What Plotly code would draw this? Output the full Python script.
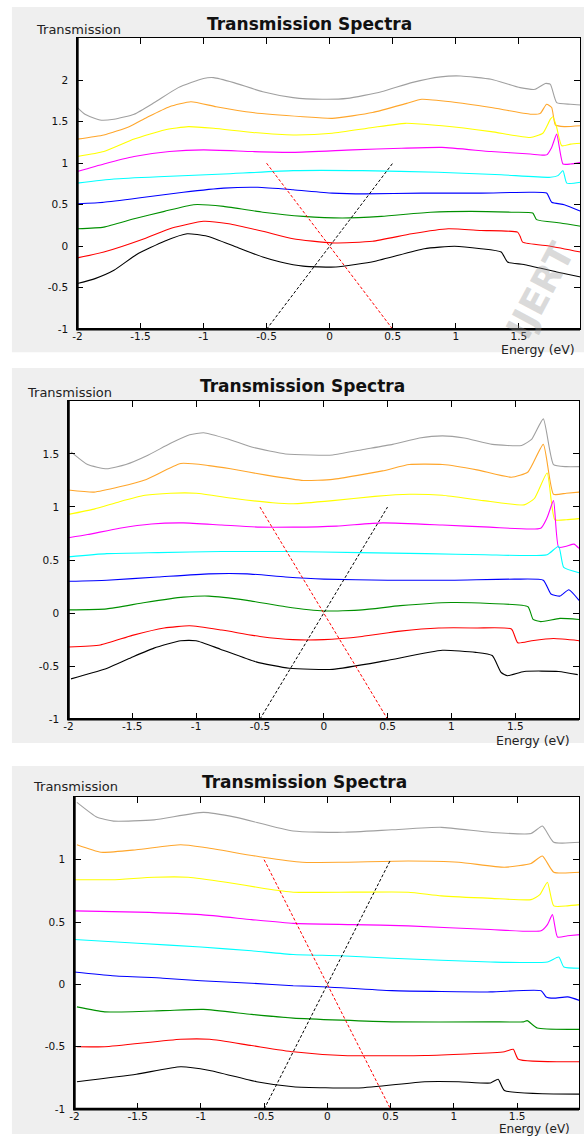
import plotly.graph_objects as go

# ---------------- data ----------------
x_tick_vals = [-2, -1.5, -1, -0.5, 0, 0.5, 1, 1.5]
x_tick_text = ["-2", "-1.5", "-1", "-0.5", "0", "0.5", "1", "1.5"]
p1_y_tick_vals = [-1, -0.5, 0, 0.5, 1, 1.5, 2]
p1_y_tick_text = ["-1", "-0.5", "0", "0.5", "1", "1.5", "2"]
p2_y_tick_vals = [-1, -0.5, 0, 0.5, 1, 1.5]
p2_y_tick_text = ["-1", "-0.5", "0", "0.5", "1", "1.5"]
p3_y_tick_vals = [-1, -0.5, 0, 0.5, 1]
p3_y_tick_text = ["-1", "-0.5", "0", "0.5", "1"]

diag_e = [-0.5, 0.5]
diag_red_t = [1, -1]
diag_black_t = [-1, 1]

# Panel 1
p1_gray_e = [-2.0, -1.94, -1.82, -1.71, -1.55, -1.39, -1.20, -1.00, -0.92, -0.76, -0.53, -0.29, -0.06, 0.14, 0.41, 0.65, 0.88, 1.04, 1.28, 1.51, 1.63, 1.71, 1.75, 1.80, 1.91, 1.99]
p1_gray_t = [1.67, 1.59, 1.52, 1.53, 1.59, 1.73, 1.91, 2.02, 2.03, 1.97, 1.86, 1.79, 1.77, 1.78, 1.86, 1.97, 2.04, 2.05, 2.01, 1.91, 1.89, 1.96, 1.95, 1.73, 1.71, 1.70]
p1_orange_e = [-2.0, -1.79, -1.59, -1.45, -1.27, -1.10, -0.90, -0.61, -0.21, 0.02, 0.34, 0.61, 0.73, 0.96, 1.28, 1.59, 1.67, 1.72, 1.76, 1.79, 1.86, 1.99]
p1_orange_t = [1.29, 1.34, 1.44, 1.55, 1.68, 1.74, 1.68, 1.61, 1.56, 1.54, 1.61, 1.72, 1.77, 1.74, 1.67, 1.59, 1.60, 1.71, 1.67, 1.46, 1.44, 1.45]
p1_yellow_e = [-2.0, -1.79, -1.55, -1.31, -1.12, -0.92, -0.61, -0.29, 0.02, 0.34, 0.60, 0.89, 1.28, 1.59, 1.69, 1.75, 1.77, 1.80, 1.84, 1.91, 1.99]
p1_yellow_t = [1.08, 1.14, 1.29, 1.40, 1.44, 1.42, 1.37, 1.34, 1.36, 1.43, 1.48, 1.45, 1.38, 1.31, 1.36, 1.53, 1.56, 1.43, 1.21, 1.23, 1.24]
p1_magenta_e = [-2.0, -1.79, -1.55, -1.27, -1.0, -0.61, -0.29, 0.18, 0.57, 0.89, 1.28, 1.59, 1.72, 1.76, 1.80, 1.85, 1.91, 1.99]
p1_magenta_t = [0.90, 0.99, 1.08, 1.14, 1.16, 1.14, 1.13, 1.16, 1.18, 1.19, 1.14, 1.11, 1.10, 1.19, 1.35, 0.99, 0.99, 1.01]
p1_cyan_e = [-2.0, -1.71, -1.31, -0.84, -0.29, 0.26, 0.86, 1.36, 1.75, 1.81, 1.85, 1.88, 1.99]
p1_cyan_t = [0.76, 0.81, 0.84, 0.87, 0.91, 0.91, 0.89, 0.86, 0.83, 0.85, 0.91, 0.76, 0.77]
p1_blue_e = [-2.0, -1.79, -1.47, -1.16, -0.84, -0.57, -0.29, 0.02, 0.28, 0.73, 1.20, 1.59, 1.72, 1.76, 1.86, 1.99]
p1_blue_t = [0.51, 0.53, 0.59, 0.65, 0.70, 0.71, 0.68, 0.64, 0.63, 0.64, 0.64, 0.65, 0.64, 0.53, 0.50, 0.42]
p1_green_e = [-2.0, -1.79, -1.55, -1.31, -1.08, -0.84, -0.53, -0.21, 0.10, 0.41, 0.80, 1.12, 1.44, 1.61, 1.64, 1.83, 1.99]
p1_green_t = [0.21, 0.23, 0.33, 0.42, 0.50, 0.48, 0.41, 0.36, 0.34, 0.36, 0.41, 0.42, 0.41, 0.40, 0.32, 0.28, 0.24]
p1_red_e = [-2.0, -1.79, -1.47, -1.25, -1.0, -0.8, -0.53, -0.29, 0.02, 0.34, 0.65, 0.94, 1.20, 1.49, 1.51, 1.53, 1.75, 1.99]
p1_red_t = [-0.14, -0.07, 0.09, 0.22, 0.30, 0.27, 0.18, 0.09, 0.04, 0.06, 0.15, 0.21, 0.19, 0.17, 0.12, 0.05, 0.00, -0.07]
p1_black_e = [-2.0, -1.86, -1.71, -1.53, -1.31, -1.13, -0.97, -0.74, -0.53, -0.39, -0.21, 0.05, 0.36, 0.75, 0.99, 1.20, 1.36, 1.41, 1.54, 1.80, 1.99]
p1_black_t = [-0.45, -0.39, -0.29, -0.10, 0.06, 0.15, 0.12, -0.01, -0.13, -0.19, -0.24, -0.25, -0.18, -0.03, 0.00, -0.03, -0.07, -0.19, -0.22, -0.31, -0.37]

# Panel 2
p2_gray_e = [-1.98, -1.85, -1.70, -1.55, -1.39, -1.20, -1.05, -0.94, -0.75, -0.55, -0.30, -0.10, 0.07, 0.30, 0.54, 0.75, 0.93, 1.10, 1.32, 1.55, 1.63, 1.72, 1.80, 1.90, 2.0]
p2_gray_t = [1.52, 1.40, 1.36, 1.40, 1.48, 1.60, 1.68, 1.70, 1.64, 1.56, 1.50, 1.49, 1.49, 1.54, 1.59, 1.65, 1.67, 1.65, 1.59, 1.58, 1.64, 1.83, 1.40, 1.38, 1.38]
p2_orange_e = [-2.0, -1.80, -1.60, -1.39, -1.12, -0.90, -0.73, -0.45, -0.16, 0.07, 0.46, 0.67, 0.93, 1.20, 1.47, 1.60, 1.72, 1.80, 1.90, 2.0]
p2_orange_t = [1.16, 1.14, 1.19, 1.26, 1.41, 1.39, 1.36, 1.30, 1.25, 1.26, 1.34, 1.40, 1.40, 1.35, 1.28, 1.33, 1.59, 1.12, 1.13, 1.14]
p2_yellow_e = [-2.0, -1.8, -1.6, -1.4, -1.2, -1.0, -0.7, -0.4, -0.24, 0.07, 0.4, 0.67, 0.93, 1.25, 1.57, 1.65, 1.75, 1.81, 1.9, 2.0]
p2_yellow_t = [0.93, 0.98, 1.05, 1.11, 1.13, 1.13, 1.08, 1.04, 1.03, 1.06, 1.10, 1.12, 1.11, 1.06, 1.02, 1.08, 1.32, 0.88, 0.88, 0.89]
p2_magenta_e = [-2.0, -1.85, -1.6, -1.35, -1.1, -0.8, -0.5, -0.24, 0.1, 0.46, 0.93, 1.3, 1.70, 1.75, 1.80, 1.84, 1.9, 1.96, 2.0]
p2_magenta_t = [0.71, 0.74, 0.80, 0.84, 0.85, 0.83, 0.81, 0.81, 0.82, 0.85, 0.83, 0.81, 0.80, 0.90, 1.06, 0.62, 0.63, 0.65, 0.61]
p2_cyan_e = [-2.0, -1.7, -1.3, -0.8, -0.3, 0.28, 0.8, 1.26, 1.75, 1.84, 1.88, 2.0]
p2_cyan_t = [0.53, 0.56, 0.57, 0.58, 0.58, 0.57, 0.56, 0.55, 0.55, 0.63, 0.43, 0.38]
p2_blue_e = [-2.0, -1.7, -1.3, -0.9, -0.6, -0.3, 0.0, 0.5, 1.0, 1.5, 1.72, 1.78, 1.85, 1.92, 2.0]
p2_blue_t = [0.30, 0.31, 0.34, 0.37, 0.37, 0.34, 0.32, 0.31, 0.31, 0.32, 0.31, 0.18, 0.16, 0.22, 0.12]
p2_green_e = [-2.0, -1.7, -1.4, -1.1, -0.9, -0.6, -0.3, 0.0, 0.3, 0.6, 1.0, 1.3, 1.6, 1.64, 1.7, 1.85, 2.0]
p2_green_t = [0.03, 0.04, 0.10, 0.15, 0.16, 0.12, 0.06, 0.02, 0.03, 0.07, 0.10, 0.09, 0.06, -0.06, -0.08, -0.05, -0.06]
p2_red_e = [-2.0, -1.75, -1.5, -1.25, -1.05, -0.8, -0.5, -0.24, 0.0, 0.3, 0.6, 0.9, 1.2, 1.47, 1.52, 1.63, 1.8, 2.0]
p2_red_t = [-0.32, -0.30, -0.21, -0.14, -0.12, -0.16, -0.22, -0.25, -0.25, -0.22, -0.17, -0.14, -0.14, -0.15, -0.28, -0.26, -0.24, -0.26]
p2_black_e = [-1.98, -1.72, -1.51, -1.33, -1.12, -1.0, -0.81, -0.53, -0.27, 0.07, 0.48, 0.93, 1.19, 1.32, 1.39, 1.44, 1.57, 1.84, 1.99]
p2_black_t = [-0.62, -0.53, -0.42, -0.33, -0.26, -0.26, -0.34, -0.46, -0.52, -0.53, -0.45, -0.35, -0.37, -0.40, -0.56, -0.59, -0.55, -0.55, -0.58]

# Panel 3
p3_gray_e = [-1.98, -1.82, -1.69, -1.37, -0.98, -0.72, -0.27, 0.12, 0.51, 0.90, 1.29, 1.61, 1.70, 1.79, 2.0]
p3_gray_t = [1.46, 1.34, 1.31, 1.32, 1.38, 1.34, 1.23, 1.22, 1.24, 1.26, 1.22, 1.21, 1.27, 1.14, 1.14]
p3_orange_e = [-1.98, -1.79, -1.51, -1.16, -0.98, -0.51, -0.20, 0.12, 0.64, 1.04, 1.40, 1.61, 1.70, 1.79, 2.0]
p3_orange_t = [1.12, 1.06, 1.08, 1.12, 1.10, 1.02, 0.98, 0.98, 0.99, 0.98, 0.94, 0.97, 1.03, 0.90, 0.90]
p3_yellow_e = [-2.0, -1.7, -1.37, -1.1, -0.8, -0.5, -0.27, 0.2, 0.64, 0.9, 1.3, 1.61, 1.68, 1.74, 1.79, 1.9, 2.0]
p3_yellow_t = [0.84, 0.84, 0.86, 0.86, 0.82, 0.77, 0.74, 0.74, 0.74, 0.71, 0.69, 0.68, 0.72, 0.82, 0.63, 0.63, 0.64]
p3_magenta_e = [-2.0, -1.5, -1.0, -0.6, -0.27, 0.2, 0.64, 1.29, 1.69, 1.74, 1.78, 1.82, 1.9, 2.0]
p3_magenta_t = [0.59, 0.58, 0.56, 0.52, 0.49, 0.48, 0.47, 0.44, 0.43, 0.48, 0.56, 0.38, 0.39, 0.40]
p3_cyan_e = [-2.0, -1.5, -1.0, -0.6, -0.27, 0.1, 0.51, 1.29, 1.74, 1.83, 1.87, 2.0]
p3_cyan_t = [0.36, 0.33, 0.30, 0.27, 0.24, 0.23, 0.21, 0.18, 0.18, 0.22, 0.14, 0.13]
p3_blue_e = [-2.0, -1.7, -1.3, -1.0, -0.6, -0.27, 0.0, 0.51, 1.29, 1.69, 1.73, 1.79, 1.9, 2.0]
p3_blue_t = [0.10, 0.07, 0.05, 0.03, 0.01, -0.01, -0.02, -0.05, -0.06, -0.05, -0.10, -0.11, -0.10, -0.13]
p3_green_e = [-1.98, -1.76, -1.3, -0.98, -0.6, -0.27, 0.51, 1.29, 1.55, 1.58, 1.66, 2.0]
p3_green_t = [-0.18, -0.22, -0.21, -0.20, -0.24, -0.27, -0.30, -0.30, -0.30, -0.29, -0.35, -0.36]
p3_red_e = [-1.98, -1.76, -1.16, -0.93, -0.6, -0.27, 0.12, 0.77, 1.40, 1.47, 1.51, 2.0]
p3_red_t = [-0.50, -0.50, -0.44, -0.44, -0.49, -0.54, -0.57, -0.57, -0.54, -0.52, -0.60, -0.62]
p3_black_e = [-1.98, -1.51, -1.16, -0.93, -0.56, -0.27, 0.25, 0.77, 1.04, 1.29, 1.35, 1.40, 2.0]
p3_black_t = [-0.78, -0.72, -0.66, -0.69, -0.78, -0.82, -0.83, -0.78, -0.78, -0.79, -0.76, -0.85, -0.88]

# ---------------- styling / layout ----------------
W, H = 584, 1140
FONT = "DejaVu Sans"
COLORS = {"gray": "#a0a0a0", "orange": "#ffa62b", "yellow": "#ffff00", "magenta": "#ff00ff",
          "cyan": "#00ffff", "blue": "#0000ff", "green": "#009000", "red": "#ff0000", "black": "#000000"}

panels = [
    dict(curves=[(p1_gray_e, p1_gray_t, "gray"), (p1_orange_e, p1_orange_t, "orange"),
                 (p1_yellow_e, p1_yellow_t, "yellow"), (p1_magenta_e, p1_magenta_t, "magenta"),
                 (p1_cyan_e, p1_cyan_t, "cyan"), (p1_blue_e, p1_blue_t, "blue"),
                 (p1_green_e, p1_green_t, "green"), (p1_red_e, p1_red_t, "red"),
                 (p1_black_e, p1_black_t, "black")],
         yr=[-1, 2.51], xr=[-2, 1.985], ytv=p1_y_tick_vals, ytt=p1_y_tick_text,
         box=(73, 38, 580, 331), bg=(7, 7, 584, 354),
         title=(307, 24), ylab=(74, 30), xlab=(538, 351), xls=12.5),
    dict(curves=[(p2_gray_e, p2_gray_t, "gray"), (p2_orange_e, p2_orange_t, "orange"),
                 (p2_yellow_e, p2_yellow_t, "yellow"), (p2_magenta_e, p2_magenta_t, "magenta"),
                 (p2_cyan_e, p2_cyan_t, "cyan"), (p2_blue_e, p2_blue_t, "blue"),
                 (p2_green_e, p2_green_t, "green"), (p2_red_e, p2_red_t, "red"),
                 (p2_black_e, p2_black_t, "black")],
         yr=[-1, 2.0], xr=[-2, 2.0], ytv=p2_y_tick_vals, ytt=p2_y_tick_text,
         box=(64, 403, 579, 723), bg=(7, 370, 584, 747),
         title=(300, 388), ylab=(65, 395), xlab=(533, 744), xls=12.5),
    dict(curves=[(p3_gray_e, p3_gray_t, "gray"), (p3_orange_e, p3_orange_t, "orange"),
                 (p3_yellow_e, p3_yellow_t, "yellow"), (p3_magenta_e, p3_magenta_t, "magenta"),
                 (p3_cyan_e, p3_cyan_t, "cyan"), (p3_blue_e, p3_blue_t, "blue"),
                 (p3_green_e, p3_green_t, "green"), (p3_red_e, p3_red_t, "red"),
                 (p3_black_e, p3_black_t, "black")],
         yr=[-1, 1.505], xr=[-2, 1.99], ytv=p3_y_tick_vals, ytt=p3_y_tick_text,
         box=(70, 801, 579, 1115), bg=(7, 770, 584, 1140),
         title=(302, 786), ylab=(71, 791), xlab=(534, 1134.5), xls=12),
]


def fx(px):
    return px / W


def fy(py):
    return 1 - py / H


fig = go.Figure()
layout = dict(width=W, height=H, margin=dict(l=0, r=0, t=0, b=0, pad=0),
              paper_bgcolor="white", plot_bgcolor="white", showlegend=False,
              shapes=[], annotations=[])

for i, p in enumerate(panels, start=1):
    sx = "" if i == 1 else str(i)
    xa, ya = "x" + sx, "y" + sx
    for e, t, c in p["curves"]:
        fig.add_trace(go.Scatter(x=e, y=t, mode="lines", xaxis=xa, yaxis=ya,
                                 line=dict(color=COLORS[c], width=1.1, shape="spline", smoothing=0.5),
                                 hoverinfo="skip"))
    fig.add_trace(go.Scatter(x=diag_e, y=diag_red_t, mode="lines", xaxis=xa, yaxis=ya,
                             line=dict(color="#ff0000", width=1, dash="3px,2px")))
    fig.add_trace(go.Scatter(x=diag_e, y=diag_black_t, mode="lines", xaxis=xa, yaxis=ya,
                             line=dict(color="#000000", width=1, dash="3px,2px")))

    x0, y0, x1, y1 = p["box"]
    axis_common = dict(showgrid=False, zeroline=False, showline=True, linecolor="black",
                       linewidth=1.2, mirror="ticks", ticks="inside", ticklen=6,
                       tickwidth=1, tickcolor="black",
                       tickfont=dict(family=FONT, size=10.5, color="#111111"))
    layout["xaxis" + sx] = dict(axis_common, domain=[fx(x0), fx(x1)], range=p["xr"],
                                anchor=ya, tickvals=x_tick_vals, ticktext=x_tick_text,
                                ticklabelstandoff=-3)
    layout["yaxis" + sx] = dict(axis_common, domain=[fy(y1), fy(y0)], range=p["yr"],
                                anchor=xa, tickvals=p["ytv"], ticktext=p["ytt"],
                                ticklabelstandoff=6)

    bx0, by0, bx1, by1 = p["bg"]
    layout["shapes"].append(dict(type="rect", xref="paper", yref="paper", layer="below",
                                 x0=fx(bx0), x1=fx(bx1), y0=fy(by1), y1=fy(by0),
                                 fillcolor="#efefef", line=dict(width=0)))
    layout["shapes"].append(dict(type="rect", xref="paper", yref="paper", layer="below",
                                 x0=fx(x0), x1=fx(x1), y0=fy(y1), y1=fy(y0),
                                 fillcolor="white", line=dict(width=0)))
    # thicker left and bottom frame lines, as in the reference
    layout["shapes"].append(dict(type="line", xref="paper", yref="paper", layer="above",
                                 x0=fx(x0), x1=fx(x0), y0=fy(y1 + 1), y1=fy(y0),
                                 line=dict(color="black", width=2.6)))
    layout["shapes"].append(dict(type="line", xref="paper", yref="paper", layer="above",
                                 x0=fx(x0 - 1), x1=fx(x1), y0=fy(y1), y1=fy(y1),
                                 line=dict(color="black", width=2.6)))

    tx, ty = p["title"]
    layout["annotations"].append(dict(text="Transmission Spectra", xref="paper", yref="paper",
                                      x=fx(tx), y=fy(ty), xanchor="center", yanchor="middle",
                                      showarrow=False,
                                      font=dict(family=FONT, size=17, weight="bold", color="#111111")))
    lx, ly = p["ylab"]
    layout["annotations"].append(dict(text="Transmission", xref="paper", yref="paper",
                                      x=fx(lx), y=fy(ly), xanchor="center", yanchor="middle",
                                      showarrow=False, font=dict(family=FONT, size=13, color="#222222")))
    ex, ey = p["xlab"]
    layout["annotations"].append(dict(text="Energy (eV)", xref="paper", yref="paper",
                                      x=fx(ex), y=fy(ey), xanchor="center", yanchor="middle",
                                      showarrow=False, font=dict(family=FONT, size=p["xls"], color="#222222")))

# faint diagonal watermark of the source page
layout["annotations"].append(dict(text="IJERT", xref="paper", yref="paper", x=fx(540), y=fy(292),
                                  xanchor="center", yanchor="middle", showarrow=False, textangle=-62,
                                  font=dict(family=FONT, size=36, weight="bold", color="rgba(150,150,150,0.35)")))

fig.update_layout(**layout)
fig.write_html("out.html", config={"displayModeBar": False},
               post_script="document.body.style.margin='0';document.body.style.overflow='hidden';")
